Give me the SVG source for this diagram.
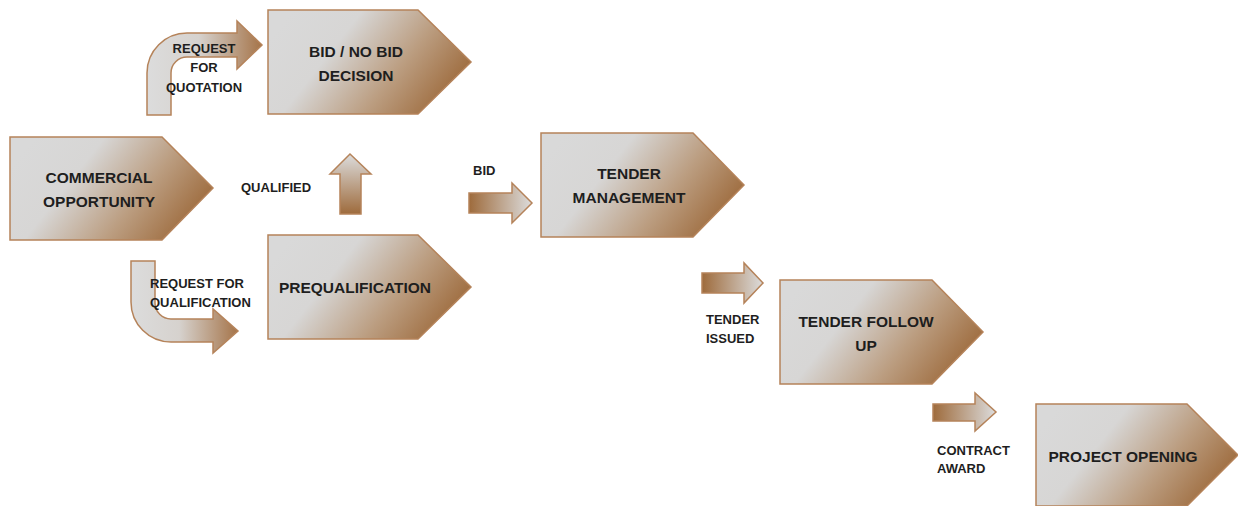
<svg xmlns="http://www.w3.org/2000/svg" width="1238" height="506" viewBox="0 0 1238 506">
  <defs>
    <linearGradient id="gNode" x1="0" y1="0.3" x2="1" y2="0.7">
      <stop offset="0" stop-color="#d9d9d9"/>
      <stop offset="0.3" stop-color="#d7d6d5"/>
      <stop offset="0.65" stop-color="#bb9d80"/>
      <stop offset="1" stop-color="#9a6535"/>
    </linearGradient>
    <linearGradient id="gArrowR" x1="0" y1="0" x2="1" y2="0">
      <stop offset="0" stop-color="#9e6b3c"/>
      <stop offset="1" stop-color="#dcdcdc"/>
    </linearGradient>
    <linearGradient id="gBend" x1="0" y1="0" x2="1" y2="0">
      <stop offset="0" stop-color="#dcdcdc"/>
      <stop offset="0.45" stop-color="#d6d2ce"/>
      <stop offset="1" stop-color="#a57449"/>
    </linearGradient>
    <linearGradient id="gUp" x1="0" y1="1" x2="0" y2="0">
      <stop offset="0" stop-color="#9e6b3c"/>
      <stop offset="1" stop-color="#dcdcdc"/>
    </linearGradient>
  </defs>
  <style>
    .node { fill: url(#gNode); stroke: #b5835a; stroke-width: 1.5; }
    .arrow { stroke: #b5835a; stroke-width: 1.5; stroke-linejoin: miter; }
    .nt { font-family: "Liberation Sans", Arial, sans-serif; font-weight: bold; font-size: 15.5px; fill: #1e1e1e; text-anchor: middle; }
    .lt { font-family: "Liberation Sans", Arial, sans-serif; font-weight: bold; font-size: 13px; fill: #1e1e1e; }
  </style>
  <rect width="1238" height="506" fill="#ffffff"/>

  <g id="connectors">
    <path class="arrow" fill="url(#gBend)" d="M147,115 L147,73 A40,40 0 0 1 187,33 L237,33 L237,21 L262,45 L237,69 L237,57 L187,57 A16,16 0 0 0 171,73 L171,115 Z"/>
    <path class="arrow" fill="url(#gBend)" d="M131,261 L155,261 L155,303 A16,16 0 0 0 171,319 L213,319 L213,309 L238,331 L213,353 L213,342 L171,342 A40,40 0 0 1 131,302 Z"/>
    <path class="arrow" fill="url(#gUp)" d="M340,214 L340,174 L330,174 L350,154 L371,174 L361,174 L361,214 Z"/>
    <path class="arrow" fill="url(#gArrowR)" d="M469,193 L512,193 L512,183 L532,203 L512,223 L512,213 L469,213 Z"/>
    <path class="arrow" fill="url(#gArrowR)" d="M702,273 L744,273 L744,263 L763,283 L744,303 L744,293 L702,293 Z"/>
    <path class="arrow" fill="url(#gArrowR)" d="M933,404 L975,404 L975,393 L996,412 L975,431 L975,421 L933,421 Z"/>

    <text class="lt" text-anchor="middle" x="204" y="53">REQUEST</text>
    <text class="lt" text-anchor="middle" x="204" y="72">FOR</text>
    <text class="lt" text-anchor="middle" x="204" y="92">QUOTATION</text>
    <text class="lt" x="150" y="288">REQUEST FOR</text>
    <text class="lt" x="150" y="307">QUALIFICATION</text>
    <text class="lt" x="241" y="192">QUALIFIED</text>
    <text class="lt" x="473" y="175">BID</text>
    <text class="lt" x="706" y="324">TENDER</text>
    <text class="lt" x="706" y="343">ISSUED</text>
    <text class="lt" x="937" y="455">CONTRACT</text>
    <text class="lt" x="937" y="473">AWARD</text>
  </g>

  <g id="commercial-opportunity">
    <path class="node" d="M10,137 L162,137 L213,188 L162,240 L10,240 Z"/>
    <text class="nt" x="99" y="183">COMMERCIAL</text>
    <text class="nt" x="99" y="207">OPPORTUNITY</text>
  </g>

  <g id="bid-no-bid-decision">
    <path class="node" d="M268,10 L418,10 L471,62 L418,114 L268,114 Z"/>
    <text class="nt" x="356" y="57">BID / NO BID</text>
    <text class="nt" x="356" y="81">DECISION</text>
  </g>

  <g id="prequalification">
    <path class="node" d="M268,235 L418,235 L471,287 L418,339 L268,339 Z"/>
    <text class="nt" x="355" y="293">PREQUALIFICATION</text>
  </g>

  <g id="tender-management">
    <path class="node" d="M541,133 L693,133 L744,185 L693,237 L541,237 Z"/>
    <text class="nt" x="629" y="179">TENDER</text>
    <text class="nt" x="629" y="203">MANAGEMENT</text>
  </g>

  <g id="tender-follow-up">
    <path class="node" d="M780,280 L932,280 L983,332 L932,384 L780,384 Z"/>
    <text class="nt" x="866" y="327">TENDER FOLLOW</text>
    <text class="nt" x="866" y="351">UP</text>
  </g>

  <g id="project-opening">
    <path class="node" d="M1036,404 L1187,404 L1238,455 L1187,506 L1036,506 Z"/>
    <text class="nt" x="1123" y="462">PROJECT OPENING</text>
  </g>
</svg>
